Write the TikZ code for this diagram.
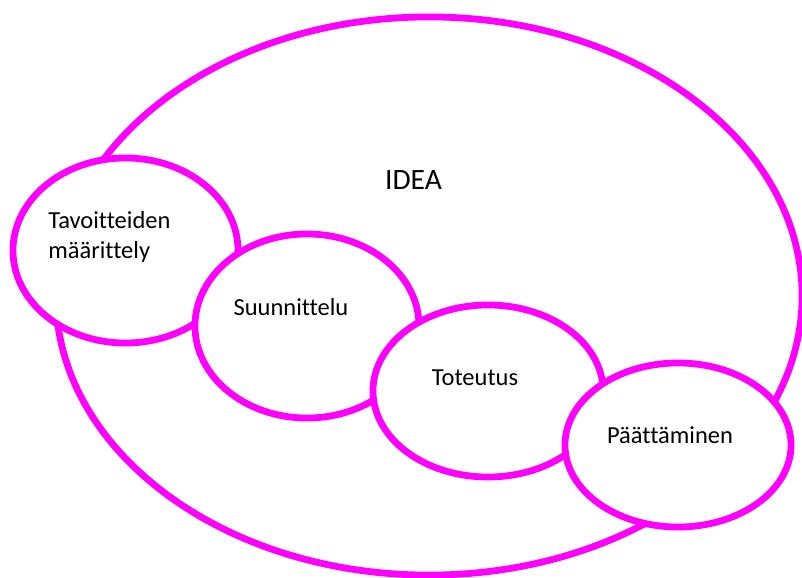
\documentclass[tikz,border=0pt]{standalone}
\usepackage{fontspec}
\setmainfont[Ligatures=NoCommon]{Carlito}
\usetikzlibrary{shapes.geometric}
\definecolor{ideapink}{RGB}{255,0,255}

\begin{document}
\begin{tikzpicture}[x=0.025cm, y=-0.025cm]
  % Stile comune per gli ovali e i testi
  \tikzset{
    oval/.style={
      ellipse,
      draw=ideapink,
      line width=4.8pt,
      fill=white,
      inner sep=0pt
    },
    ovaltext/.style={
      text=black,
      inner sep=0pt,
      font=\fontsize{17.4}{21.3}\selectfont
    }
  }
  \useasboundingbox (0,0) rectangle (802,578);

  % Ovale grande
  \node[oval, minimum width=18.65cm, minimum height=13.95cm] (idea) at (429,296) {};

  % Ovali piccoli, ognuno sopra il precedente
  \node[oval, minimum width=5.625cm, minimum height=4.625cm] (tavoitteet) at (125.5,250.5) {};
  \node[oval, minimum width=5.6cm, minimum height=4.6cm] (suunnittelu) at (307,326) {};
  \node[oval, minimum width=5.75cm, minimum height=4.3cm] (toteutus) at (488,391) {};
  \node[oval, minimum width=5.65cm, minimum height=4.1cm] (paattaminen) at (678,445) {};

  % Testi
  \node[ovaltext, anchor=base, font=\fontsize{21}{25}\selectfont] (ideatext) at (413.5,189) {IDEA};
  \node[ovaltext, anchor=base west, align=left] (tavoitteettext) at (48,258) {Tavoitteiden\\määrittely};
  \node[ovaltext, anchor=base] (suunnittelutext) at (291,315) {Suunnittelu};
  \node[ovaltext, anchor=base] (toteutustext) at (475,385) {Toteutus};
  \node[ovaltext, anchor=base] (paattaminentext) at (670,443) {Päättäminen};
\end{tikzpicture}
\end{document}
